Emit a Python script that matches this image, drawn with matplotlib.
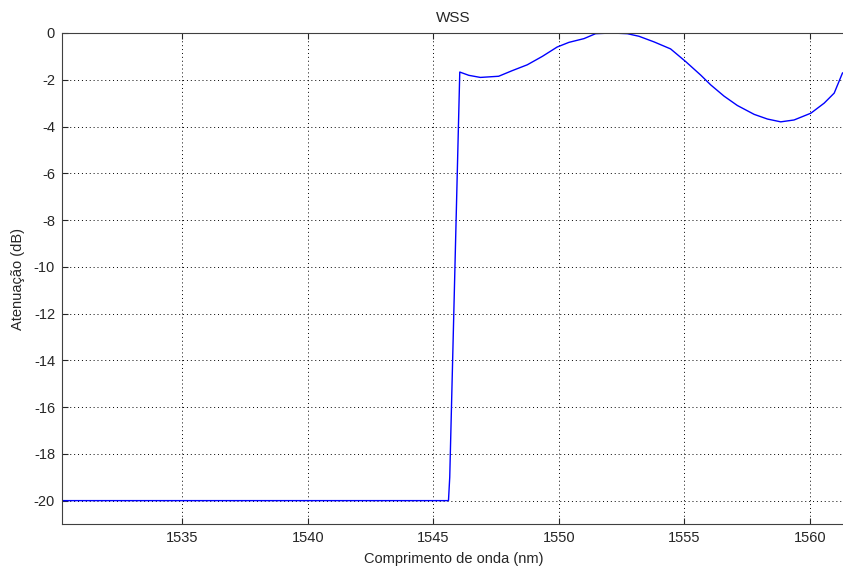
"""WSS attenuation profile versus wavelength."""

import matplotlib
matplotlib.use("Agg")
import matplotlib.pyplot as plt

# wavelength (nm) and attenuation (dB)
wavelength = [1530.2, 1545.6, 1545.65, 1546.05, 1546.41, 1546.87, 1547.60,
              1548.14, 1548.74, 1549.34, 1549.93, 1550.40, 1551.0, 1551.46,
              1552.1, 1552.73, 1553.19, 1553.79, 1554.45, 1555.05,
              1555.65, 1556.05, 1556.58, 1557.11, 1557.78, 1558.31, 1558.84,
              1559.37, 1560.04, 1560.57, 1560.97, 1561.30]
attenuation = [-20.0, -20.0, -19.0, -1.67, -1.81, -1.90, -1.85,
               -1.61, -1.36, -1.00, -0.60, -0.40, -0.24, -0.03,
               0.0, -0.03, -0.14, -0.38, -0.68, -1.22,
               -1.80, -2.22, -2.70, -3.10, -3.48, -3.68, -3.80,
               -3.72, -3.43, -3.00, -2.57, -1.71]

x_ticks = [1535, 1540, 1545, 1550, 1555, 1560]
y_ticks = list(range(-20, 1, 2))

plt.rcParams["font.family"] = ["Liberation Sans", "DejaVu Sans"]
plt.rcParams["axes.unicode_minus"] = False

fig = plt.figure(figsize=(8.43, 5.68), dpi=100)
ax = fig.add_axes([62 / 843, 44 / 568, 783 / 843, 491 / 568])

ax.plot(wavelength, attenuation, color="#0000ff", lw=1.0)

ax.set_xlim(1530.2, 1561.4)
ax.set_ylim(-21, 0)
ax.set_xticks(x_ticks)
ax.set_yticks(y_ticks)
ax.grid(True, color="black", linestyle=(0, (1, 3)), lw=0.7)
ax.tick_params(direction="in", length=4, labelsize=10.5, colors="#262626",
               top=True, right=False, pad=5)
for side in ("left", "bottom", "top"):
    ax.spines[side].set_color("#404040")
ax.spines["right"].set_visible(False)

ax.set_title("WSS", fontsize=11, color="#262626", pad=8)
ax.set_xlabel("Comprimento de onda (nm)", fontsize=10.5, color="#262626", labelpad=5)
ax.set_ylabel("Atenuação (dB)", fontsize=10.5, color="#262626", labelpad=6)

fig.savefig("out.png", dpi=100)
plt.close(fig)
